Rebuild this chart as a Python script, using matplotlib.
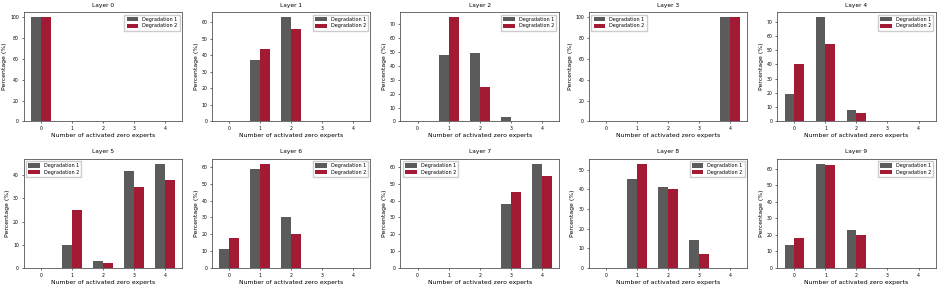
import numpy as np
import matplotlib
matplotlib.use('Agg')
import matplotlib.pyplot as plt

# Données (pourcentage par nombre d'experts zéro activés)
experts = [0, 1, 2, 3, 4]
layers = [f'Layer {i}' for i in range(10)]

deg1 = [
    [100, 0, 0, 0, 0],
    [0, 37, 63, 0, 0],
    [0, 48, 49, 3, 0],
    [0, 0, 0, 0, 100],
    [19, 73, 8, 0, 0],
    [0, 10, 3, 42, 45],
    [11, 59, 30, 0, 0],
    [0, 0, 0, 38, 62],
    [0, 45, 41, 14, 0],
    [14, 63, 23, 0, 0],
]
deg2 = [
    [100, 0, 0, 0, 0],
    [0, 44, 56, 0, 0],
    [0, 75, 25, 0, 0],
    [0, 0, 0, 0, 100],
    [40, 54, 6, 0, 0],
    [0, 25, 2, 35, 38],
    [18, 62, 20, 0, 0],
    [0, 0, 0, 45, 55],
    [0, 53, 40, 7, 0],
    [18, 62, 20, 0, 0],
]
legend_locs = ['upper right', 'upper right', 'upper right', 'upper left', 'upper right',
               'upper left', 'upper right', 'upper left', 'upper right', 'upper right']

c1 = '#5b5b5b'
c2 = '#a31a35'
width = 0.32

fig, axes = plt.subplots(2, 5, figsize=(9.47, 2.88), dpi=100)
fig.subplots_adjust(left=0.025, right=0.988, top=0.958, bottom=0.07, wspace=0.19, hspace=0.34)

x = np.arange(len(experts))
for i, ax in enumerate(axes.flat):
    ax.bar(x - width / 2, deg1[i], width, color=c1, label='Degradation 1')
    ax.bar(x + width / 2, deg2[i], width, color=c2, label='Degradation 2')
    ax.set_title(layers[i], fontsize=4.2, pad=4)
    ax.set_xticks(x)
    ax.set_xticklabels(experts)
    ax.tick_params(labelsize=3.3, length=1.5, width=0.4, pad=2)
    ax.set_xlabel('Number of activated zero experts', fontsize=4.4, labelpad=1.5)
    ax.set_ylabel('Percentage (%)', fontsize=4.4, labelpad=2)
    for s in ax.spines.values():
        s.set_linewidth(0.6)
        s.set_color('#555555')
    ax.legend(loc=legend_locs[i], fontsize=3.5, handlelength=2.4, handleheight=0.9,
              borderpad=0.45, labelspacing=0.35, framealpha=1, edgecolor='#cccccc', fancybox=False)

plt.savefig('out.png', dpi=100)
